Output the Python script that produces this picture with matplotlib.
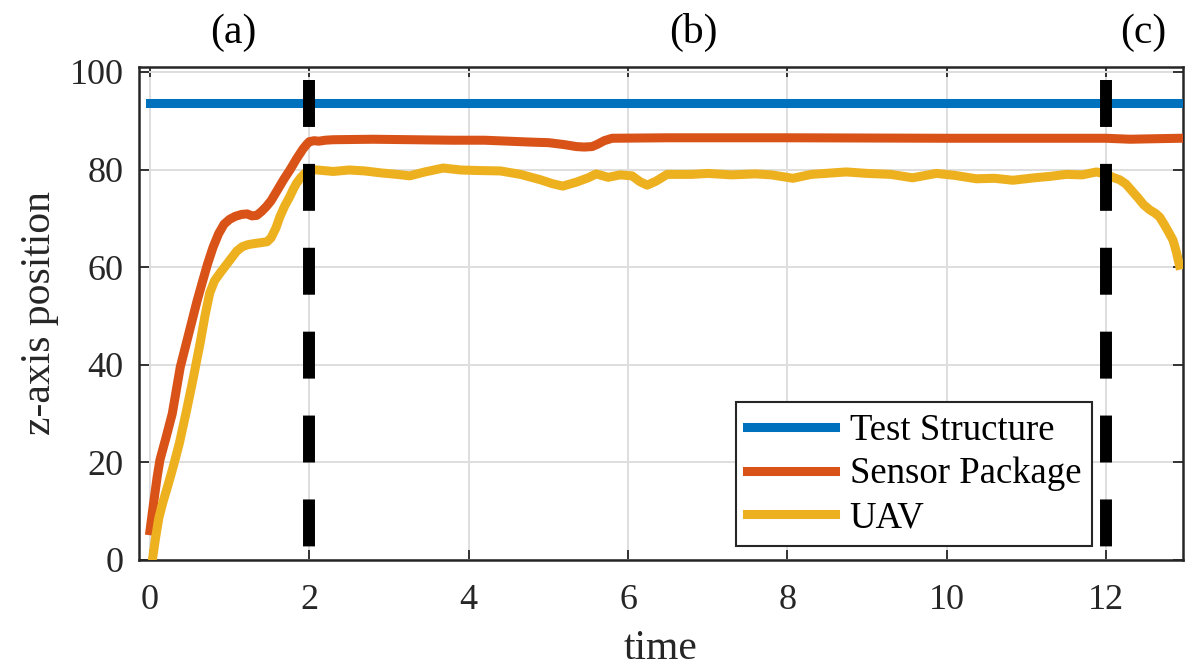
"""z-axis position of test structure, sensor package and UAV over time."""
import matplotlib
matplotlib.use("Agg")
import matplotlib.pyplot as plt  # noqa: E402

plt.rcParams["font.family"] = ["Liberation Serif", "DejaVu Serif"]

# --- data ---
struct_t = [0.0, 12.92]
struct_z = [93.6, 93.6]

sensor_t = [0.0, 0.04, 0.09, 0.125, 0.2, 0.28, 0.38, 0.45, 0.52, 0.59, 0.65, 0.72,
            0.79, 0.86, 0.93, 1.0, 1.07, 1.15, 1.22, 1.28, 1.34, 1.4, 1.46, 1.52,
            1.6, 1.68, 1.76, 1.84, 1.92, 1.97, 2.0, 2.06, 2.12, 2.2, 2.3, 2.8,
            3.3, 3.8, 4.2, 4.5, 4.8, 5.0, 5.2, 5.35, 5.45, 5.55, 5.62, 5.7, 5.8,
            6.5, 8.0, 10.0, 12.0, 12.3, 12.6, 12.93]
sensor_z = [6.0, 11.0, 17.0, 20.5, 25.0, 30.0, 39.5, 44.0, 48.5, 53.0, 56.5, 60.5,
            64.0, 66.8, 68.8, 69.8, 70.4, 70.8, 70.9, 70.5, 70.6, 71.4, 72.4, 73.6,
            75.8, 78.0, 80.0, 82.2, 84.2, 85.2, 85.7, 85.9, 85.8, 86.0, 86.1, 86.2,
            86.1, 86.0, 86.0, 85.8, 85.6, 85.5, 85.1, 84.7, 84.6, 84.7, 85.2, 85.9,
            86.4, 86.5, 86.5, 86.4, 86.4, 86.2, 86.3, 86.4]

uav_t = [0.03, 0.07, 0.11, 0.16, 0.22, 0.29, 0.37, 0.46, 0.54, 0.63, 0.69, 0.75,
         0.81, 0.88, 0.95, 1.02, 1.09, 1.16, 1.23, 1.3, 1.39, 1.47, 1.52, 1.58,
         1.63, 1.69, 1.75, 1.8, 1.84, 1.89, 1.93, 2.0, 2.1, 2.3, 2.5, 2.7,
         2.9, 3.1, 3.26, 3.45, 3.68, 3.9, 4.1, 4.4, 4.65, 4.9, 5.05, 5.18,
         5.35, 5.5, 5.6, 5.75, 5.9, 6.05, 6.15, 6.24, 6.35, 6.49, 6.8, 7.0,
         7.3, 7.6, 7.8, 8.07, 8.3, 8.74, 9.0, 9.3, 9.57, 9.87, 10.1, 10.37,
         10.6, 10.83, 11.1, 11.3, 11.5, 11.7, 11.88, 12.0, 12.1, 12.17, 12.25,
         12.33, 12.4, 12.47, 12.55, 12.62, 12.67, 12.72, 12.78, 12.84, 12.88, 12.92]
uav_z = [0.0, 4.5, 8.5, 11.7, 15.0, 19.0, 24.0, 30.7, 37.0, 44.5, 50.0, 54.7,
         57.2, 58.8, 60.3, 61.8, 63.3, 64.2, 64.6, 64.8, 65.0, 65.2, 66.0, 68.0,
         70.3, 72.5, 74.3, 76.0, 77.2, 78.3, 79.0, 80.0, 79.9, 79.6, 79.9, 79.7,
         79.3, 79.0, 78.7, 79.5, 80.3, 79.9, 79.8, 79.7, 79.0, 77.9, 77.1, 76.6,
         77.4, 78.3, 79.1, 78.4, 78.9, 78.7, 77.5, 76.8, 77.6, 79.0, 79.0, 79.2,
         78.9, 79.1, 78.9, 78.2, 79.0, 79.5, 79.2, 79.0, 78.3, 79.2, 78.8, 78.1,
         78.2, 77.8, 78.3, 78.6, 79.0, 78.9, 79.5, 79.0, 78.3, 77.9, 77.0,
         75.5, 74.2, 72.8, 71.7, 71.0, 70.3, 69.0, 67.3, 65.5, 63.2, 60.4]

phase_times = [2, 12]
phase_span = [98.4, 2.7]
phase_labels = ["(a)", "(b)", "(c)"]
phase_label_t = [1.04, 6.82, 12.46]

x_ticks = [0, 2, 4, 6, 8, 10, 12]
y_ticks = [0, 20, 40, 60, 80, 100]

BLUE, ORANGE, YELLOW = "#0072BD", "#D95319", "#EDB120"
DARK = "#262626"

fig = plt.figure(figsize=(11.96, 6.70), dpi=100)
ax = fig.add_axes([0.1162, 0.1642, 0.873, 0.7358])

ax.plot(struct_t, struct_z, color=BLUE, lw=6.5, label="Test Structure", zorder=3)
ax.plot(sensor_t, sensor_z, color=ORANGE, lw=6.5, label="Sensor Package", zorder=3)
ax.plot(uav_t, uav_z, color=YELLOW, lw=6.5, label="UAV", zorder=3)

lw_dash = 8.6
for t in phase_times:
    ax.plot([t, t], phase_span, color="black", lw=lw_dash, solid_capstyle="butt",
            dash_capstyle="butt", dashes=(33.8 / lw_dash, 26.6 / lw_dash), zorder=4)

for lab, t in zip(phase_labels, phase_label_t):
    ax.text(t, 108, lab, ha="center", va="center", fontsize=30, color="black")

ax.set_xlim(-0.138, 12.966)
ax.set_ylim(0, 101)
ax.set_xticks(x_ticks)
ax.set_yticks(y_ticks)
ax.tick_params(direction="in", top=True, right=True, length=7, width=1.3,
               colors=DARK, labelsize=26, pad=11)
ax.tick_params(axis="x", pad=17)
for s in ax.spines.values():
    s.set_color(DARK); s.set_linewidth(1.8)
ax.grid(True, color="#dedede", lw=1.4, zorder=0)
ax.set_axisbelow(True)

ax.set_xlabel("time", fontsize=30, color=DARK, labelpad=9)
ax.set_ylabel("z-axis position", fontsize=30, color=DARK, labelpad=8)

leg = ax.legend(loc="lower right", bbox_to_anchor=(0.913, 0.028), borderaxespad=0,
                fontsize=26.5, fancybox=False, framealpha=1, edgecolor=DARK,
                handlelength=2.4, handletextpad=0.4, labelspacing=0.25,
                borderpad=0.3)
leg.get_frame().set_linewidth(1.5)

fig.savefig("out.png", dpi=100)
